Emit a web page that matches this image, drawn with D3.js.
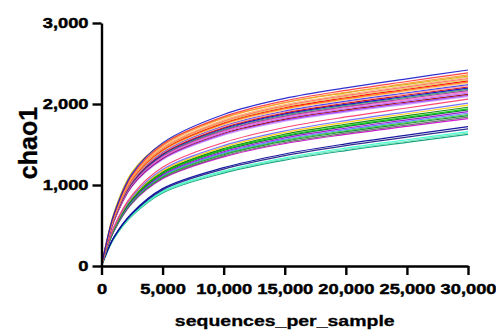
<!DOCTYPE html>
<html>
<head>
<meta charset="utf-8">
<script src="https://cdn.jsdelivr.net/npm/d3@7"></script>
<style>
  body { margin: 0; background: #fff; }
  svg { display: block; }
  .axis path, .axis line { stroke: #000; stroke-width: 2.4px; }
  .axis text { font-family: "Liberation Sans", Arial, sans-serif; font-weight: bold; font-size: 15px; fill: #000; stroke: #000; stroke-width: 0.45px; }
  .title { font-family: "Liberation Sans", Arial, sans-serif; font-weight: bold; fill: #000; stroke: #000; stroke-width: 0.3px; }
</style>
</head>
<body>
<div id="chart"></div>
<script>
const depths = [0, 250, 1000, 2500, 5000, 10000, 15000, 20000, 25000, 30000];

const yTicks = [0, 1000, 2000, 3000];
const xTicks = [0, 5000, 10000, 15000, 20000, 25000, 30000];

const sampleColors = [
  '#1a1acc', '#ff3333', '#ff9933', '#ccb300', '#ffb366', '#ff6666', '#e6c84d', '#ff0000',
  '#ff8000', '#ffcc99', '#3333ff', '#ff9999', '#cc0000', '#0000cc', '#339966', '#993399',
  '#ff66cc', '#b366ff', '#990000', '#9933ff', '#cc99ff', '#ff3366', '#6666ff', '#ffcc00',
  '#008000', '#00cc00', '#006633', '#9900cc', '#4d79ff', '#33cc33', '#00802b', '#666666',
  '#cc00cc', '#000099', '#1a1a80', '#33ffcc', '#66e0b3', '#009973'
];

// chao1 at each depth, one row per sample
const chao1 = [
  [0, 182, 629, 1137, 1520, 1871, 2069, 2200, 2311, 2420],
  [0, 179, 620, 1121, 1498, 1844, 2039, 2168, 2278, 2385],
  [0, 177, 614, 1109, 1482, 1824, 2018, 2145, 2254, 2360],
  [0, 190, 650, 1160, 1510, 1830, 2015, 2138, 2242, 2345],
  [0, 175, 606, 1095, 1463, 1801, 1992, 2118, 2225, 2330],
  [0, 174, 602, 1088, 1454, 1789, 1979, 2104, 2211, 2315],
  [0, 173, 598, 1081, 1444, 1778, 1967, 2091, 2197, 2300],
  [0, 171, 594, 1074, 1435, 1766, 1954, 2077, 2182, 2285],
  [0, 170, 590, 1067, 1426, 1755, 1941, 2063, 2168, 2270],
  [0, 169, 586, 1060, 1416, 1743, 1928, 2050, 2154, 2255],
  [0, 168, 582, 1053, 1407, 1732, 1915, 2036, 2139, 2240],
  [0, 167, 579, 1046, 1397, 1720, 1902, 2023, 2125, 2225],
  [0, 166, 575, 1039, 1388, 1708, 1890, 2009, 2111, 2210],
  [0, 165, 571, 1032, 1378, 1697, 1877, 1995, 2096, 2195],
  [0, 164, 567, 1025, 1369, 1685, 1864, 1982, 2082, 2180],
  [0, 162, 563, 1018, 1360, 1674, 1851, 1968, 2068, 2165],
  [0, 161, 559, 1011, 1350, 1662, 1838, 1954, 2053, 2150],
  [0, 160, 555, 1003, 1341, 1650, 1825, 1941, 2039, 2135],
  [0, 159, 551, 996, 1331, 1639, 1813, 1927, 2025, 2120],
  [0, 158, 547, 989, 1322, 1627, 1800, 1913, 2010, 2105],
  [0, 157, 543, 982, 1313, 1616, 1787, 1900, 1996, 2090],
  [0, 140, 480, 876, 1220, 1524, 1710, 1840, 1951, 2060],
  [0, 137, 468, 854, 1190, 1487, 1668, 1795, 1903, 2010],
  [0, 135, 463, 844, 1175, 1469, 1648, 1773, 1880, 1985],
  [0, 133, 457, 833, 1160, 1450, 1627, 1750, 1856, 1960],
  [0, 132, 452, 825, 1148, 1436, 1610, 1732, 1837, 1940],
  [0, 131, 449, 819, 1141, 1426, 1599, 1721, 1825, 1927],
  [0, 130, 444, 810, 1128, 1410, 1581, 1701, 1804, 1905],
  [0, 128, 439, 802, 1117, 1396, 1565, 1684, 1786, 1886],
  [0, 127, 436, 795, 1107, 1384, 1552, 1670, 1771, 1870],
  [0, 126, 433, 789, 1099, 1374, 1541, 1658, 1759, 1857],
  [0, 125, 428, 781, 1087, 1359, 1525, 1640, 1740, 1837],
  [0, 124, 424, 774, 1077, 1347, 1511, 1625, 1724, 1820],
  [0, 103, 353, 654, 955, 1214, 1383, 1508, 1615, 1720],
  [0, 102, 347, 644, 940, 1196, 1362, 1486, 1591, 1694],
  [0, 100, 340, 631, 921, 1172, 1335, 1456, 1559, 1660],
  [0, 98, 336, 623, 910, 1158, 1319, 1438, 1540, 1640],
  [0, 98, 333, 618, 902, 1147, 1307, 1425, 1526, 1625]
];

const width = 496, height = 331;
const margin = {top: 23, right: 28, bottom: 65, left: 101.5};
const stretch = 1.22; // tick text in the reference is drawn wide

const svg = d3.select('#chart').append('svg')
  .attr('width', width)
  .attr('height', height);

const contentWidth = width - margin.left - margin.right;
const contentHeight = height - margin.top - margin.bottom;

const x = d3.scaleLinear().domain([0, 30000]).range([0, contentWidth]);
const y = d3.scaleLinear().domain([0, 3000]).range([contentHeight, 0]);

const plot = svg.append('g')
  .attr('transform', 'translate(' + margin.left + ',' + margin.top + ')');

const line = d3.line()
  .x((d, i) => x(depths[i]))
  .y(d => y(d))
  .curve(d3.curveCatmullRom.alpha(0.5));

plot.selectAll('.curve')
  .data(chao1.slice().reverse())
  .enter().append('path')
    .attr('class', 'curve')
    .attr('fill', 'none')
    .attr('stroke', (d, i) => sampleColors[chao1.length - 1 - i])
    .attr('stroke-width', 1.2)
    .attr('stroke-opacity', 0.9)
    .attr('d', line);

const fmt = d3.format(',');

const xAxis = plot.append('g')
  .attr('class', 'axis axis--x')
  .attr('transform', 'translate(0,' + contentHeight + ')')
  .call(d3.axisBottom(x).tickValues(xTicks).tickFormat(fmt).tickSize(9).tickSizeOuter(0).tickPadding(8));
xAxis.selectAll('text')
  .attr('transform', function() { return 'translate(0,' + d3.select(this).attr('y') + ') scale(' + stretch + ',1)'; })
  .attr('y', 0);

const yAxis = plot.append('g')
  .attr('class', 'axis axis--y')
  .call(d3.axisLeft(y).tickValues(yTicks).tickFormat(fmt).tickSize(9).tickSizeOuter(0).tickPadding(4));
yAxis.selectAll('text')
  .attr('transform', function() { return 'translate(' + d3.select(this).attr('x') + ',0) scale(' + stretch + ',1)'; })
  .attr('x', 0);

svg.append('text')
  .attr('class', 'title')
  .attr('transform', 'translate(' + (margin.left + contentWidth / 2) + ',326) scale(1.3,1)')
  .attr('text-anchor', 'middle')
  .style('font-size', '15px')
  .text('sequences_per_sample');

svg.append('text')
  .attr('class', 'title')
  .attr('transform', 'translate(36.5,143) rotate(-90)')
  .attr('text-anchor', 'middle')
  .style('font-size', '25px')
  .text('chao1');
</script>
</body>
</html>
